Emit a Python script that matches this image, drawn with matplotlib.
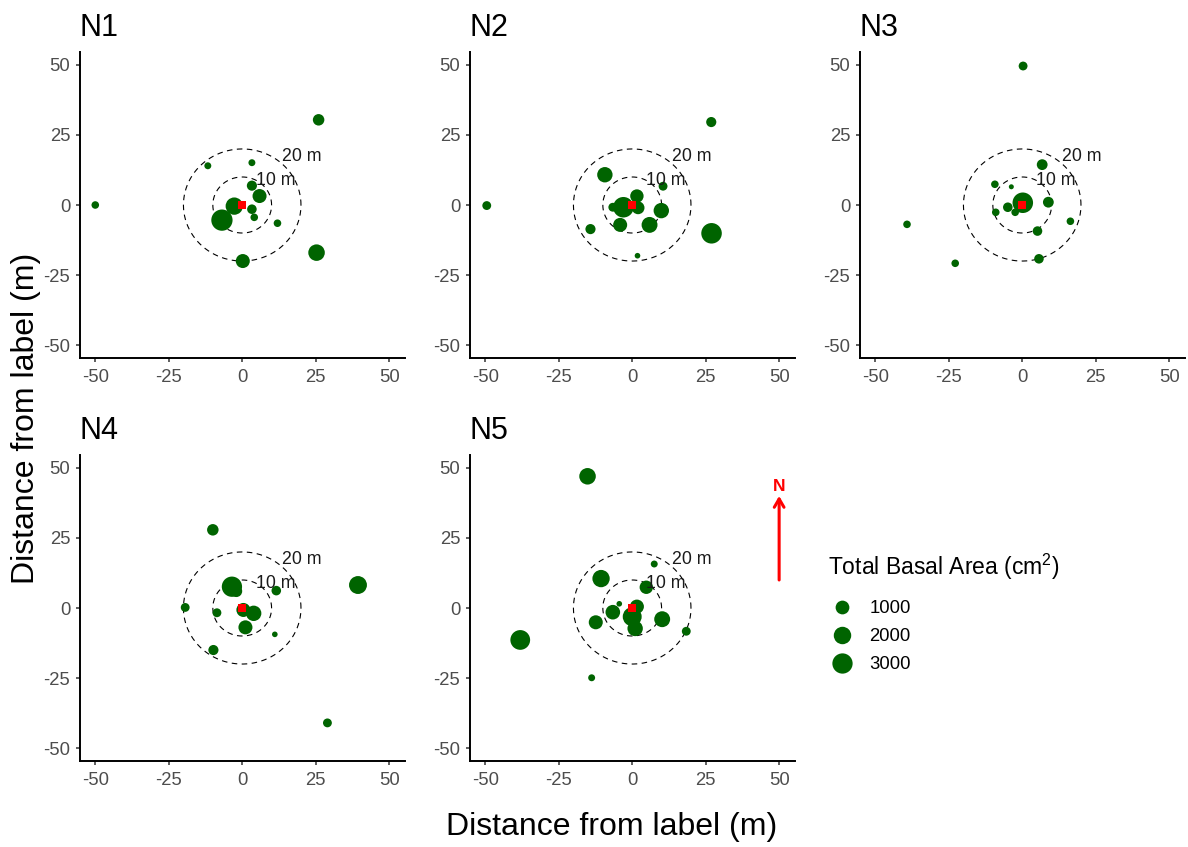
import numpy as np
import matplotlib
matplotlib.use("Agg")
import matplotlib.pyplot as plt
from matplotlib.lines import Line2D

plt.rcParams['font.family'] = ['Liberation Sans', 'DejaVu Sans']
plt.rcParams['mathtext.fontset'] = 'custom'
plt.rcParams['mathtext.rm'] = 'Liberation Sans'
plt.rcParams['mathtext.it'] = 'Liberation Sans'
plt.rcParams['axes.unicode_minus'] = False

# ---------------- data ----------------
panels = ["N1", "N2", "N3", "N4", "N5"]

n1_x = [26.0, -11.7, 3.3, 3.3, 5.9, -2.7, 3.3, 4.1, -6.9, 12.0, 0.2, 25.3, -50.0]
n1_y = [30.4, 14.0, 15.1, 6.9, 3.2, -0.4, -1.5, -4.4, -5.4, -6.5, -20.0, -17.0, 0.0]
n1_ba = [560, 68, 68, 358, 1060, 1960, 286, 105, 3400, 105, 1060, 1720, 105]

n2_x = [26.9, -9.3, 10.5, 1.6, -3.0, -6.6, 2.0, 9.9, -4.1, 5.9, -14.2, 1.8, 27.0, -49.5]
n2_y = [29.6, 10.8, 6.7, 3.2, -0.8, -0.8, -1.0, -2.0, -7.1, -7.1, -8.6, -18.1, -10.1, -0.2]
n2_ba = [358, 1400, 210, 920, 3100, 210, 800, 1400, 1060, 1540, 358, 25, 3100, 210]

n3_x = [0.3, 6.8, -9.3, -3.7, 0.2, -4.9, -2.4, 8.9, -9.0, 16.4, 5.2, 5.7, -39.2, -22.8]
n3_y = [49.6, 14.4, 7.4, 6.5, 0.8, -0.8, -2.6, 1.0, -2.6, -5.8, -9.3, -19.2, -6.9, -20.8]
n3_ba = [210, 450, 105, 20, 3100, 286, 105, 450, 105, 105, 286, 286, 105, 105]

n4_x = [-10.0, -3.5, -2.0, 11.6, -19.4, -8.6, 0.4, 3.9, 1.1, 11.1, -9.8, 39.4, 29.0]
n4_y = [27.9, 7.6, 6.0, 6.2, 0.2, -1.7, -0.7, -1.9, -6.9, -9.4, -15.0, 8.2, -41.0]
n4_ba = [560, 3000, 600, 286, 210, 210, 1060, 1400, 1060, 25, 358, 2150, 210]

n5_x = [-15.2, -10.6, 7.5, 4.8, -4.4, -6.6, 1.6, 0.0, 1.0, -12.4, 10.2, 18.4, -38.1, -13.8]
n5_y = [47.0, 10.5, 15.7, 7.4, 1.5, -1.5, 0.5, -3.1, -7.3, -5.1, -4.0, -8.3, -11.4, -24.9]
n5_ba = [1720, 1960, 68, 920, 25, 1200, 1060, 2500, 1400, 1060, 1540, 210, 2800, 68]

ring_radii = [10, 20]
ring_labels = ["10 m", "20 m"]
legend_breaks = [1000, 2000, 3000]
axis_ticks = [-50, -25, 0, 25, 50]

data = {
    "N1": (n1_x, n1_y, n1_ba),
    "N2": (n2_x, n2_y, n2_ba),
    "N3": (n3_x, n3_y, n3_ba),
    "N4": (n4_x, n4_y, n4_ba),
    "N5": (n5_x, n5_y, n5_ba),
}

# ---------------- styling ----------------
W, H = 1188, 847
DPI = 100
GREEN = "#006400"
VMIN, VMAX = 20.0, 3500.0
DMIN, DMAX = 5.0, 21.5  # marker diameter range in pixels


def diam_px(v):
    v = np.asarray(v, dtype=float)
    t = np.clip((v - VMIN) / (VMAX - VMIN), 0, 1)
    return DMIN + (DMAX - DMIN) * np.sqrt(t)


def size_pt2(v):
    return (diam_px(v) * 72.0 / DPI) ** 2


fig = plt.figure(figsize=(W / DPI, H / DPI), dpi=DPI)
fig.patch.set_facecolor("white")

lefts = [80, 470, 860, 80, 470]
tops = [52, 52, 52, 455, 455]
pw, ph = 325, 306

ring_label_pos = {10: (11.3, 8.9), 20: (20.1, 17.3)}
theta = np.linspace(0, 2 * np.pi, 400)

axes = {}
for name, lx, ty in zip(panels, lefts, tops):
    ax = fig.add_axes([lx / W, 1 - (ty + ph) / H, pw / W, ph / H])
    axes[name] = ax
    xs, ys, ba = data[name]
    for r, lab in zip(ring_radii, ring_labels):
        ax.plot(r * np.cos(theta), r * np.sin(theta), color="black",
                lw=0.8, linestyle=(0, (5, 4)), zorder=1)
    ax.scatter(xs, ys, s=size_pt2(ba), color=GREEN, edgecolors="none",
               zorder=3)
    ax.plot([0], [0], marker="s", color="red", markersize=5.5,
            markeredgewidth=0, linestyle="none", zorder=4)
    for r, lab in zip(ring_radii, ring_labels):
        px, py = ring_label_pos[r]
        ax.text(px, py, lab, ha="center", va="center", fontsize=12.8,
                color="#1a1a1a", zorder=5)
    ax.set_xlim(-55.2, 55.4)
    ax.set_ylim(-54.6, 54.6)
    ax.set_xticks(axis_ticks)
    ax.set_yticks(axis_ticks)
    for s in ["top", "right"]:
        ax.spines[s].set_visible(False)
    for s in ["left", "bottom"]:
        ax.spines[s].set_linewidth(1.4)
        ax.spines[s].set_color("black")
    ax.tick_params(axis="both", length=3, width=1.1, color="#333333",
                   labelcolor="#4D4D4D", labelsize=13.3)
    ax.tick_params(axis="x", pad=5)
    ax.tick_params(axis="y", pad=4)
    ax.set_title(name, loc="left", fontsize=22, pad=11.5, color="black")

# north arrow in N5
ax5 = axes["N5"]
ax5.annotate("", xy=(50, 40), xytext=(50, 10),
             arrowprops=dict(arrowstyle="->,head_length=0.6,head_width=0.35",
                             color="red", lw=2.2, shrinkA=0, shrinkB=0),
             annotation_clip=False, zorder=6)
ax5.text(50, 43.2, "N", color="red", fontweight="bold", fontsize=12.5,
         ha="center", va="center", clip_on=False)

# axis titles
fig.text(612 / W, 1 - 827 / H, "Distance from label (m)", ha="center",
         va="center", fontsize=23)
fig.text(26 / W, 1 - 418 / H, "Distance from label (m)", ha="center",
         va="center", rotation=90, fontsize=23)

# legend
handles = [Line2D([0], [0], marker="o", linestyle="none", color=GREEN,
                  markeredgewidth=0, markersize=diam_px(v) * 72.0 / DPI)
           for v in legend_breaks]
labels = [str(v) for v in legend_breaks]
leg = fig.legend(handles, labels, title="Total Basal Area (cm$^{2}$)",
                 loc="upper left", bbox_to_anchor=(828 / W, 1 - 552 / H),
                 frameon=False, fontsize=13.3, title_fontsize=16.5,
                 handlelength=1.5, handletextpad=0.75, labelspacing=0.6,
                 borderpad=0, borderaxespad=0)
leg._legend_box.align = "left"
leg._legend_box.sep = 13

fig.savefig("out.png", dpi=DPI, facecolor="white")
